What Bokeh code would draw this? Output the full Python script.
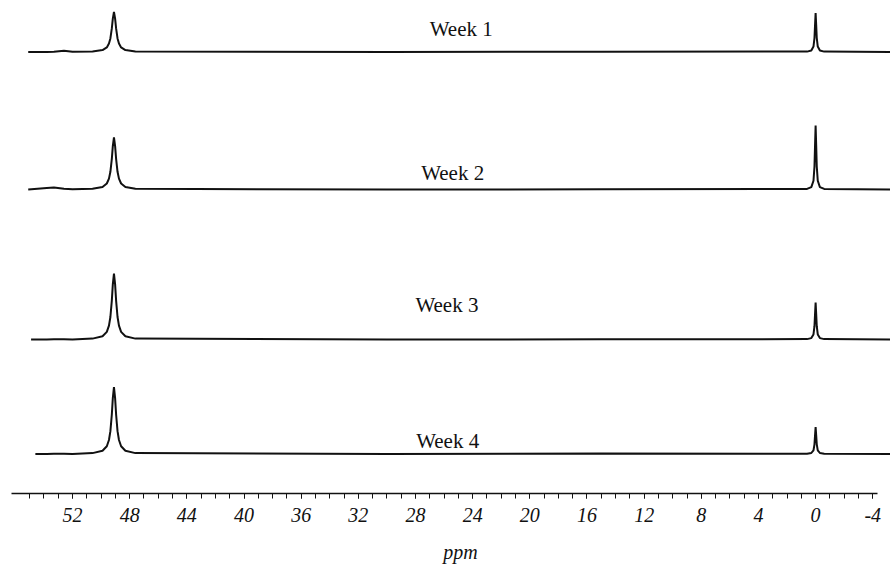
from bokeh.plotting import figure
from bokeh.models import Range1d, LinearAxis, FixedTicker, ColumnDataSource
from bokeh.core.properties import value
from bokeh.embed import file_html
from bokeh.resources import INLINE

# ---------------- data ----------------
weeks = ["Week 1", "Week 2", "Week 3", "Week 4"]

# chemical shift points (ppm) shared by all traces, high -> low
ppm = [53.8, 53.3, 52.6, 52.0,
       50.6, 49.9, 49.6, 49.45, 49.35, 49.25, 49.18, 49.1, 49.02, 48.95,
       48.85, 48.75, 48.6, 48.3, 47.6,
       30.0, 15.0,
       0.6, 0.3, 0.15, 0.08, 0.04, 0.0, -0.04, -0.08, -0.15, -0.3, -0.6,
       -5.3]

# left end of each trace (ppm)
trace_start = [55.1, 55.1, 54.9, 54.6]

week1 = [0.0, 0.3, 1.3, 0.2,
         0.6, 1.9, 4.6, 8.4, 13.6, 23.6, 33.4, 40.0, 33.4, 23.6,
         13.6, 8.4, 4.6, 1.9, 0.6,
         0.0, 0.3,
         0.4, 1.5, 5.4, 14.0, 26.9, 39.0, 26.9, 14.0, 5.4, 1.5, 0.4,
         0.0]
week2 = [1.5, 2.0, 0.8, 0.2,
         0.7, 2.5, 6.0, 10.9, 17.7, 30.7, 43.4, 52.0, 43.4, 30.7,
         17.7, 10.9, 6.0, 2.5, 0.7,
         0.0, 0.2,
         0.6, 2.4, 8.8, 23.0, 44.2, 64.0, 44.2, 23.0, 8.8, 2.4, 0.6,
         0.0]
week3 = [0.0, 0.2, 0.3, 0.0,
         0.9, 3.2, 7.6, 13.8, 22.5, 38.9, 55.1, 66.0, 55.1, 38.9,
         22.5, 13.8, 7.6, 3.2, 0.9,
         0.0, 0.2,
         0.4, 1.4, 5.1, 13.3, 25.5, 37.0, 25.5, 13.3, 5.1, 1.4, 0.4,
         0.0]
week4 = [0.0, 0.2, 0.2, 0.0,
         0.9, 3.2, 7.7, 14.0, 22.8, 39.5, 55.9, 67.0, 55.9, 39.5,
         22.8, 14.0, 7.7, 3.2, 0.9,
         0.0, 0.4,
         0.3, 1.0, 3.7, 9.7, 18.6, 27.0, 18.6, 9.7, 3.7, 1.0, 0.3,
         0.0]
intensities = [week1, week2, week3, week4]

major_ticks = [52, 48, 44, 40, 36, 32, 28, 24, 20, 16, 12, 8, 4, 0, -4]
minor_ticks = list(range(-4, 56))
x_title = "ppm"

# ---------------- layout (stacking offsets, label places) ----------------
FRAME_H = 493
baseline_y = [FRAME_H - 51.5, FRAME_H - 189, FRAME_H - 339, FRAME_H - 453.5]
label_ppm = [24.8, 25.4, 25.8, 25.75]
label_y = [FRAME_H - 28, FRAME_H - 172, FRAME_H - 304, FRAME_H - 440]
TITLE_PAD = "\u2002\u2002\u2002"   # nudges the centred axis title to the right

p = figure(width=890, height=567, output_backend="svg", toolbar_location=None,
           x_range=Range1d(57.04, -5.24), y_range=Range1d(0, FRAME_H),
           x_axis_type=None, y_axis_type=None,
           min_border_left=0, min_border_right=0, min_border_top=0,
           min_border_bottom=567 - FRAME_H)
p.outline_line_color = None
p.xgrid.visible = False
p.ygrid.visible = False
p.background_fill_color = "white"
p.border_fill_color = "white"

for i in range(4):
    xs = [trace_start[i]] + ppm
    ys = [baseline_y[i] + 0.0] + [baseline_y[i] + v for v in intensities[i]]
    p.line(xs, ys, line_color="#111111", line_width=2.0)

src = ColumnDataSource(dict(x=label_ppm, y=label_y, t=weeks))
p.text(x="x", y="y", text="t", source=src, text_align="center",
       text_baseline="alphabetic", text_font=value("Liberation Serif"),
       text_font_size="21px", text_color="#111111")

ax = LinearAxis(bounds=(-4.3, 56.3),
                ticker=FixedTicker(ticks=major_ticks, minor_ticks=minor_ticks))
ax.axis_line_color = "#111111"
ax.axis_line_width = 1.5
ax.major_tick_in = 0
ax.major_tick_out = 5
ax.minor_tick_in = 0
ax.minor_tick_out = 5
ax.major_tick_line_color = "#111111"
ax.minor_tick_line_color = "#111111"
ax.major_label_text_font = "Liberation Serif"
ax.major_label_text_font_style = "italic"
ax.major_label_text_font_size = "20px"
ax.major_label_text_color = "#111111"
ax.major_label_standoff = 9
ax.major_label_overrides = {-4: "-4"}
ax.axis_label = TITLE_PAD + x_title
ax.axis_label_text_font = "Liberation Serif"
ax.axis_label_text_font_style = "italic"
ax.axis_label_text_font_size = "20px"
ax.axis_label_text_color = "#111111"
ax.axis_label_standoff = 16
p.add_layout(ax, "below")

open("out.html", "w").write(file_html(p, INLINE))
